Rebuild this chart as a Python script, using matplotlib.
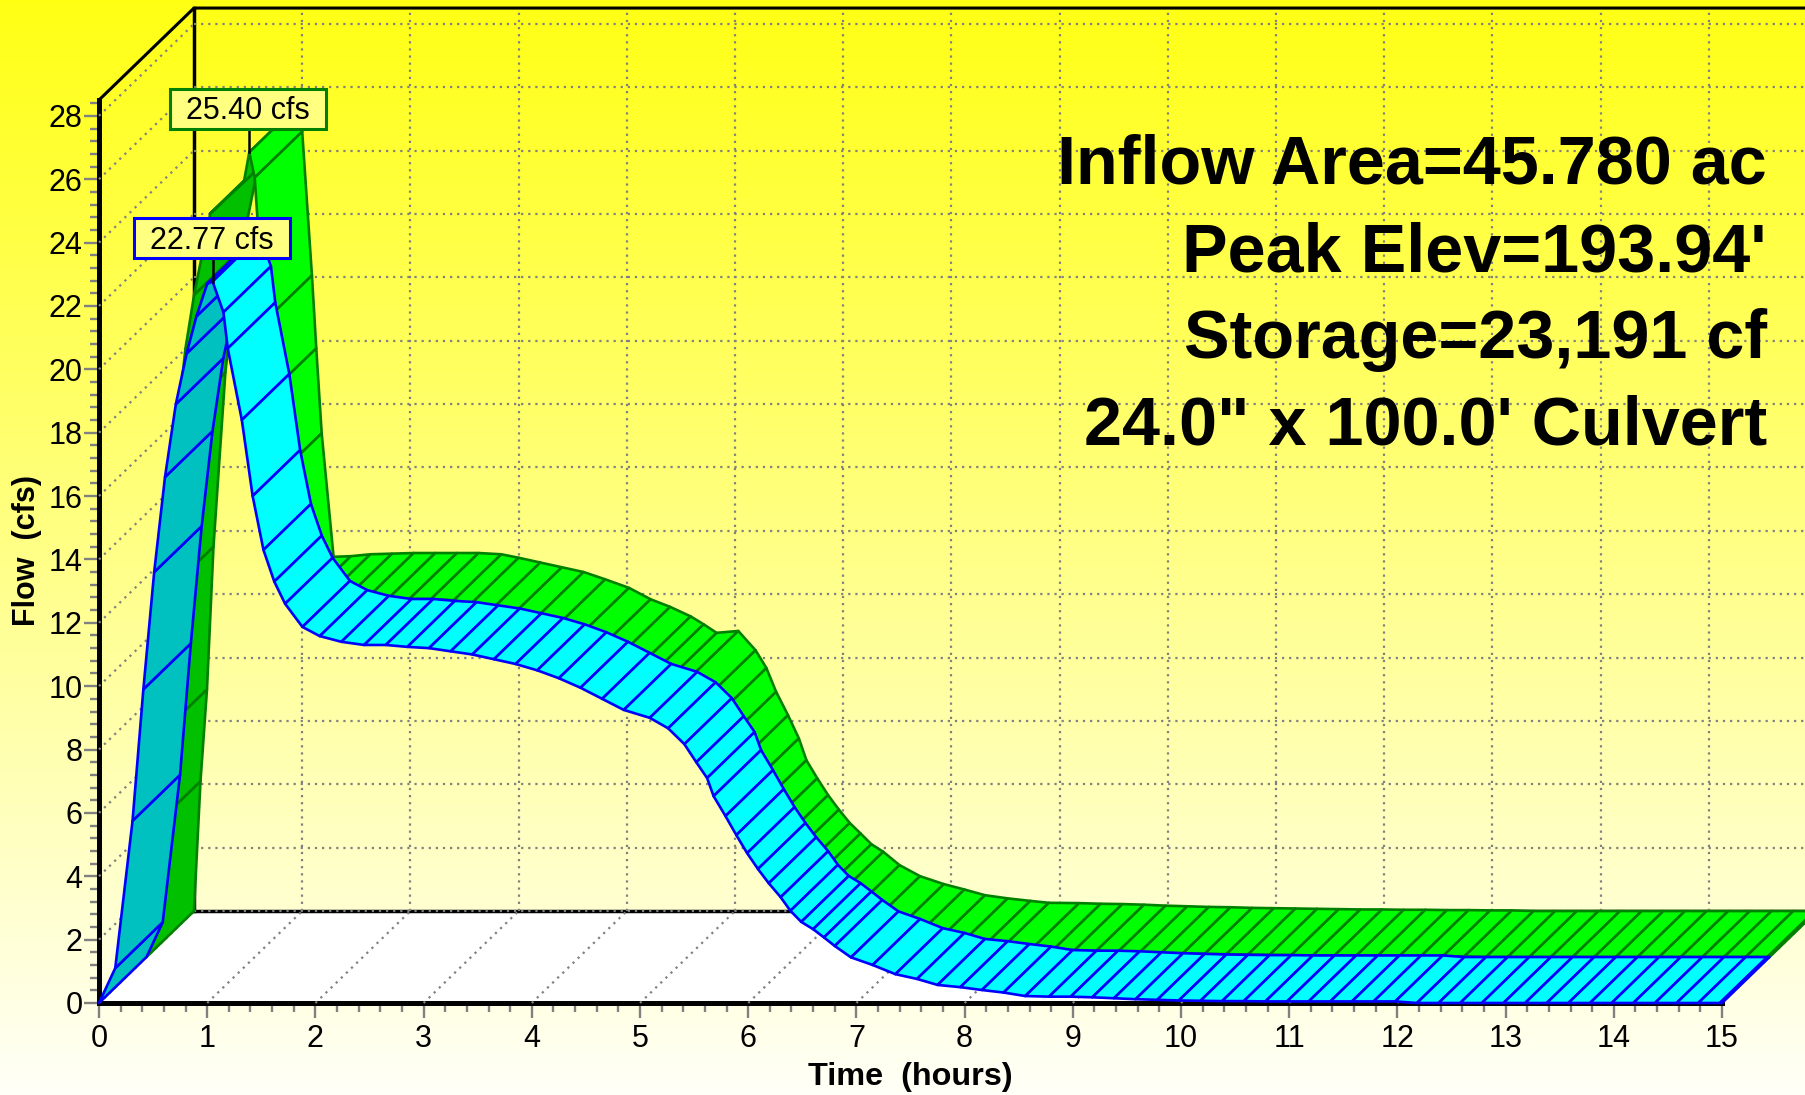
#!/usr/bin/env python3

import numpy as np
import matplotlib
matplotlib.use("Agg")
from matplotlib import pyplot as plt
from matplotlib.patches import Rectangle
from matplotlib.ticker import MultipleLocator

plt.rcParams['font.family'] = ['Liberation Sans', 'DejaVu Sans']

# outflow, the front ribbon
blue_t = [0, .15, .31, .41, .51, .61, .71, .81, .90, 1.0, 1.05, 1.15, 1.19, 1.32, 1.42,
          1.52, 1.62, 1.72, 1.88, 2.04, 2.24, 2.45, 2.65, 2.85, 3.05, 3.25, 3.45, 3.65,
          3.85, 4.05, 4.25, 4.45, 4.65, 4.85, 5.09, 5.26, 5.41, 5.52, 5.62, 5.68, 5.79,
          5.89, 5.99, 6.09, 6.19, 6.30, 6.39, 6.49, 6.60, 6.70, 6.80, 6.95, 7.15, 7.36,
          7.56, 7.75, 7.96, 8.16, 8.36, 8.56,
          8.78, 8.98, 9.18, 9.38, 9.58, 9.78, 9.98, 10.18, 10.38, 10.58, 10.78, 10.98,
          11.18, 11.38, 11.58, 11.78, 11.98, 12.18, 12.38, 12.58, 12.78, 12.98, 13.18,
          13.38, 13.58, 13.78, 13.98, 14.18, 14.38, 14.58, 14.78, 14.98, 15.0]
blue_q = [0, 1.1, 5.75, 9.9, 13.6, 16.6, 18.9, 20.5, 21.67, 22.7, 22.77, 21.8, 20.66, 18.4, 16.0,
          14.3, 13.3, 12.6, 11.87, 11.58, 11.4, 11.3, 11.3, 11.24, 11.2, 11.1, 11.0, 10.85,
          10.7, 10.5, 10.25, 9.95, 9.6, 9.25, 9.0, 8.67, 8.17, 7.6, 7.1, 6.53, 5.9,
          5.3, 4.73, 4.23, 3.78, 3.34, 2.91, 2.56, 2.33, 2.07, 1.8, 1.44, 1.2, .91,
          .76, .57, .5, .41, .33, .22,
          .20, .20, .18, .15, .12, .10, .08, .07, .06, .06, .05, .05,
          .05, .05, .05, .05, .05, 0, 0, 0, 0, 0, 0,
          0, 0, 0, 0, 0, 0, 0, 0, 0, 0]

# inflow, the rear ribbon
green_t = [0, .06, .12, .18, .29, .36, .44, .59, .90, .95, 1.0, 1.09, 1.13, 1.18, 1.29,
           1.45, 1.63, 1.83, 2.03, 2.23, 2.43, 2.63, 2.84, 3.0, 3.2, 3.4, 3.6, 3.8,
           4.02, 4.22, 4.4, 4.59, 4.71, 4.83, 5.03, 5.19, 5.29, 5.38, 5.49, 5.59, 5.66,
           5.76, 5.86, 5.96, 6.06, 6.16, 6.26, 6.37, 6.52, 6.71, 6.93, 7.12, 7.31, 7.52,
           7.73, 7.9,
           8.18, 8.38, 8.58, 8.78, 8.98, 9.18, 9.38, 9.58, 9.78, 9.98, 10.18, 10.38, 10.58,
           10.78, 10.98, 11.18, 11.38, 11.58, 11.78, 11.98, 12.18, 12.38, 12.58, 12.78,
           12.98, 13.18, 13.38, 13.58, 13.78, 13.98, 14.18, 14.38, 14.58, 14.78, 14.98, 15.0]
green_q = [0, 4.1, 7.0, 11.5, 17.0, 19.2, 20.9, 23.47, 24.46, 25.4, 24.6, 20.06, 17.76, 15.08, 11.18,
           11.2, 11.26, 11.28, 11.3, 11.3, 11.3, 11.3, 11.26, 11.15, 11.0, 10.85, 10.7, 10.47,
           10.2, 9.84, 9.6, 9.3, 9.05, 8.78, 8.84, 8.23, 7.67, 6.92, 6.18, 5.45, 4.76,
           4.19, 3.66, 3.2, 2.78, 2.45, 2.11, 1.87, 1.45, 1.1, .85, .68, .5, .4,
           .32, .26,
           .25, .23, .22, .20, .17, .15, .13, .12, .10, .09, .08, .07, .06,
           .05, .05, .04, .04, .03, .03, .02, .02, 0, 0, 0,
           0, 0, 0, 0, 0, 0, 0, 0, 0, 0, 0, 0]

peak_green = "25.40 cfs"
peak_blue = "22.77 cfs"
notes = ["Inflow Area=45.780 ac", "Peak Elev=193.94'", "Storage=23,191 cf", "24.0\" x 100.0' Culvert"]

W, H = 1806, 1095
# 3D look: how far the back wall is shifted, in hours and cfs
DX, DY = 95 / 108.2, 92 / 31.7

fig = plt.figure(figsize=(W / 100, H / 100), dpi=100)

# yellow to nearly white background
bg = fig.add_axes([0, 0, 1, 1], zorder=-1)
grad = np.ones((256, 1, 3))
grad[:, 0, 2] = np.linspace(0.08, 0.97, 256)
bg.imshow(grad, aspect='auto')
bg.axis('off')

ax = fig.add_axes([99 / W, 1 - 1003 / H, (1722 - 99) / W, (1003 - 100) / H])
ax.patch.set_visible(False)


def ribbon(t, q, d0, d1, face, shade, edge):
    # one quad per time step, left to right. steep rises show the underside
    for i in range(len(t) - 1):
        xs = [t[i] + d0 * DX, t[i + 1] + d0 * DX, t[i + 1] + d1 * DX, t[i] + d1 * DX]
        ys = [q[i] + d0 * DY, q[i + 1] + d0 * DY, q[i + 1] + d1 * DY, q[i] + d1 * DY]
        slope = (q[i + 1] - q[i]) / (t[i + 1] - t[i])
        ax.fill(xs, ys, facecolor=shade if slope > DY / DX else face, edgecolor=edge,
                lw=1.9, joinstyle='round', clip_on=False, zorder=6)


def peak_label(text, x, y, edge):
    ax.plot([x, x], [y, y + 1.33], color='black', lw=1.8, clip_on=False, zorder=7)
    bw, bh = 156 / 108.2, 40 / 31.7
    ax.add_patch(Rectangle((x - 1 / 108.2 - bw / 2, y + 1.36 - bh / 2), bw, bh, facecolor='#ffff80',
                           edgecolor=edge, lw=2.2, clip_on=False, zorder=8))
    ax.text(x - 1 / 108.2, y + 1.40, text, ha='center', va='center_baseline', fontsize=22, zorder=9,
            color='black')


hours = np.arange(0, 16)
flows = np.arange(0, 29, 2)
dots = dict(color='#808080', lw=1.6, linestyle=(0, (1, 2.2)), clip_on=False, zorder=3)

# floor
ax.fill([0, 15, 15 + DX, DX], [0, 0, DY, DY], facecolor='white', edgecolor='none', clip_on=False, zorder=1)

# wall frame
top = 28.5
ax.plot([0, DX, 15 + DX], [top, top + DY, top + DY], color='black', lw=2.2, clip_on=False, zorder=2)
ax.plot([DX, DX], [DY, top + DY], color='black', lw=2.5, clip_on=False, zorder=2)
ax.plot([DX, 15 + DX], [DY, DY], color='black', lw=2.5, clip_on=False, zorder=2)

# dotted grid on floor, side wall and back wall
for h in hours:
    ax.plot([h, h + DX], [0, DY], **dots)
    if h > 0:
        ax.plot([h + DX, h + DX], [DY, top + DY], **dots)
for f in flows:
    ax.plot([0, DX], [f, f + DY], **dots)
    ax.plot([DX, 15 + DX], [f + DY, f + DY], **dots)

ribbon(green_t, green_q, 0.5, 1.0, '#00ff00', '#00c000', '#008000')
ribbon(blue_t, blue_q, 0.0, 0.5, '#00ffff', '#00c0c0', '#0000ff')

peak_label(peak_green, green_t[9] + 0.5 * DX, green_q[9] + 0.5 * DY, '#008000')
peak_label(peak_blue, blue_t[10], blue_q[10], '#0000ff')

ax.set_xlim(0, 15)
ax.set_ylim(0, top)
ax.spines['top'].set_visible(False)
ax.spines['right'].set_visible(False)
ax.spines['left'].set_linewidth(3.6)
ax.spines['bottom'].set_linewidth(3.6)
ax.set_xticks(hours)
ax.set_yticks(flows)
ax.xaxis.set_minor_locator(MultipleLocator(0.2))
ax.yaxis.set_minor_locator(MultipleLocator(0.4))
ax.tick_params(which='major', length=10.8, width=1.7, color='#808080', labelsize=22)
ax.tick_params(which='minor', length=6.3, width=1.7, color='#808080')
ax.tick_params(axis='x', which='major', pad=4)
ax.tick_params(axis='y', which='major', pad=1)

fig.text(910 / W, 1 - 1077 / H, "Time  (hours)", fontsize=23.3, fontweight='bold', ha='center', va='center')
fig.text(27 / W, 1 - 550 / H, "Flow  (cfs)", fontsize=22, fontweight='bold', rotation=90, ha='center', va='center')

for line, base in zip(notes, [184, 272, 358, 445]):
    fig.text(1767 / W, 1 - base / H, line, fontsize=49.2, fontweight='bold', ha='right', va='baseline')

plt.savefig("out.png", dpi=100)
